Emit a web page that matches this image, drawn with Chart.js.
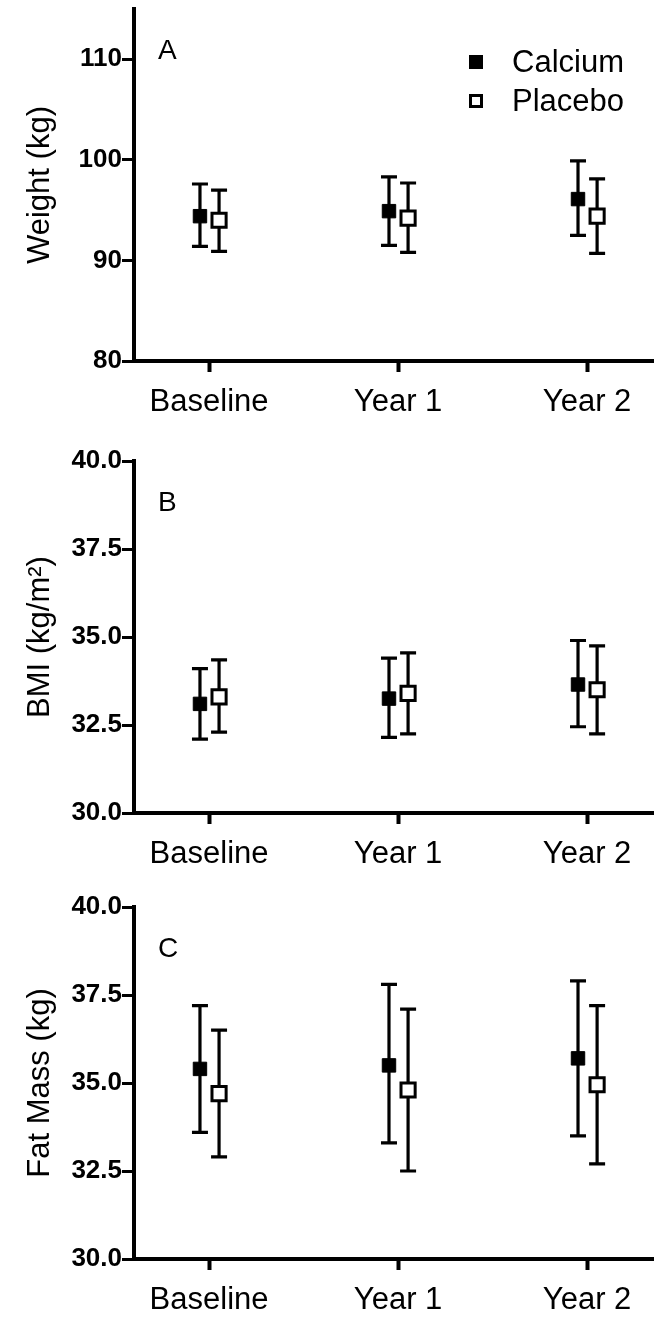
<!DOCTYPE html>
<html>
<head>
<meta charset="utf-8">
<script src="https://cdn.jsdelivr.net/npm/chart.js@4.4.1/dist/chart.umd.min.js"></script>
<style>
  body { margin: 0; background: #fff; }
  .panel { position: absolute; left: 0; width: 654px; }
</style>
</head>
<body>
<div class="panel" style="top:0;height:440px"><canvas id="weight"></canvas></div>
<div class="panel" style="top:440px;height:440px"><canvas id="bmi"></canvas></div>
<div class="panel" style="top:880px;height:438px"><canvas id="fat"></canvas></div>
<script>
const categories = ["Baseline", "Year 1", "Year 2"];

// Panel A - weight (kg), mean with error bar ends
const weightCalcium = [94.4, 94.9, 96.1];
const weightCalciumLow = [91.4, 91.5, 92.5];
const weightCalciumHigh = [97.6, 98.3, 99.9];
const weightPlacebo = [94.0, 94.2, 94.4];
const weightPlaceboLow = [90.9, 90.8, 90.7];
const weightPlaceboHigh = [97.0, 97.7, 98.1];

// Panel B - BMI (kg/m2)
const bmiCalcium = [33.1, 33.25, 33.65];
const bmiCalciumLow = [32.1, 32.15, 32.45];
const bmiCalciumHigh = [34.1, 34.4, 34.9];
const bmiPlacebo = [33.3, 33.4, 33.5];
const bmiPlaceboLow = [32.3, 32.25, 32.25];
const bmiPlaceboHigh = [34.35, 34.55, 34.75];

// Panel C - fat mass (kg)
const fatCalcium = [35.4, 35.5, 35.7];
const fatCalciumLow = [33.6, 33.3, 33.5];
const fatCalciumHigh = [37.2, 37.8, 37.9];
const fatPlacebo = [34.7, 34.8, 34.95];
const fatPlaceboLow = [32.9, 32.5, 32.7];
const fatPlaceboHigh = [36.5, 37.1, 37.2];

const weightTicks = [80, 90, 100, 110];
const percentTicks = [30, 32.5, 35, 37.5, 40];

const FONT = '"Liberation Sans", Arial, sans-serif';
Chart.defaults.font.family = FONT;
Chart.defaults.color = "#000";

// dodge the two groups a little around each category
const dodge = { calcium: -0.048, placebo: 0.053 };
const toPoints = (vals, shift) => vals.map((v, i) => ({ x: i + shift, y: v }));

const errorBars = {
  id: "errorBars",
  beforeDatasetsDraw(chart) {
    const ctx = chart.ctx;
    const yScale = chart.scales.y;
    chart.data.datasets.forEach((ds, i) => {
      const meta = chart.getDatasetMeta(i);
      ctx.save();
      ctx.strokeStyle = "#000";
      ctx.lineWidth = 3.2;
      meta.data.forEach((pt, j) => {
        const top = yScale.getPixelForValue(ds.errHigh[j]);
        const bottom = yScale.getPixelForValue(ds.errLow[j]);
        ctx.beginPath();
        ctx.moveTo(pt.x, top);
        ctx.lineTo(pt.x, bottom);
        ctx.moveTo(pt.x - 8, top);
        ctx.lineTo(pt.x + 8, top);
        ctx.moveTo(pt.x - 8, bottom);
        ctx.lineTo(pt.x + 8, bottom);
        ctx.stroke();
      });
      ctx.restore();
    });
  },
};

const panelDecor = {
  id: "panelDecor",
  afterDraw(chart, args, opts) {
    const { ctx, chartArea } = chart;
    ctx.save();
    ctx.fillStyle = "#000";
    ctx.textBaseline = "middle";
    ctx.font = "28px " + FONT;
    ctx.fillText(opts.letter, chartArea.left + 24, chartArea.top + 42);
    if (opts.legend) {
      ctx.font = "31px " + FONT;
      chart.data.datasets.forEach((ds, i) => {
        const cy = chartArea.top + 53 + i * 39;
        const bx = chartArea.right - 185;
        if (ds.backgroundColor === "#000") {
          ctx.fillRect(bx, cy - 7, 14, 14);
        } else {
          ctx.strokeStyle = "#000";
          ctx.lineWidth = 3;
          ctx.strokeRect(bx + 1.5, cy - 5.5, 11, 11);
        }
        ctx.fillText(ds.label, chartArea.right - 142, cy + 1);
      });
    }
    ctx.restore();
  },
};

function makePanel(id, cfg) {
  const canvas = document.getElementById(id);
  const boxH = canvas.parentNode.clientHeight;
  new Chart(canvas, {
    type: "scatter",
    data: {
      datasets: [
        {
          label: "Calcium",
          data: toPoints(cfg.calcium, dodge.calcium),
          errLow: cfg.calciumLow,
          errHigh: cfg.calciumHigh,
          pointStyle: "rect",
          pointRadius: 9.5,
          backgroundColor: "#000",
          borderColor: "#000",
          borderWidth: 1,
        },
        {
          label: "Placebo",
          data: toPoints(cfg.placebo, dodge.placebo),
          errLow: cfg.placeboLow,
          errHigh: cfg.placeboHigh,
          pointStyle: "rect",
          pointRadius: 10,
          backgroundColor: "#fff",
          borderColor: "#000",
          borderWidth: 3,
        },
      ],
    },
    options: {
      responsive: true,
      maintainAspectRatio: false,
      animation: false,
      events: [],
      layout: {
        autoPadding: false,
        padding: { top: cfg.top, left: 0, right: 0, bottom: 0 },
      },
      plugins: {
        legend: { display: false },
        tooltip: { enabled: false },
        panelDecor: { letter: cfg.letter, legend: cfg.legend },
      },
      scales: {
        x: {
          type: "linear",
          min: -0.397,
          max: 2.354,
          afterBuildTicks: (s) => {
            s.ticks = categories.map((c, i) => ({ value: i }));
          },
          ticks: {
            callback: (v) => categories[v],
            font: { size: 31 },
            color: "#000",
            padding: 12,
            maxRotation: 0,
            autoSkip: false,
          },
          grid: {
            drawOnChartArea: false,
            tickLength: 11,
            tickWidth: 4,
            tickColor: "#000",
          },
          border: { color: "#000", width: 4 },
          afterFit: (s) => {
            s.height = boxH - cfg.bottom;
            s.paddingLeft = 0;
            s.paddingRight = 0;
          },
        },
        y: {
          min: cfg.ticks[0],
          max: cfg.max,
          afterBuildTicks: (s) => {
            s.ticks = cfg.ticks.map((v) => ({ value: v }));
          },
          ticks: {
            callback: cfg.format,
            font: { size: 26, weight: "bold" },
            color: "#000",
            padding: 0,
          },
          grid: {
            drawOnChartArea: false,
            tickLength: 12,
            tickWidth: 3,
            tickColor: "#000",
          },
          border: { color: "#000", width: 4 },
          title: {
            display: true,
            text: cfg.title,
            font: { size: 31, lineHeight: 1 },
            color: "#000",
            padding: { top: 25, bottom: 0 },
          },
          afterFit: (s) => {
            s.width = 134;
            s.paddingTop = 0;
            s.paddingBottom = 0;
          },
        },
      },
    },
    plugins: [errorBars, panelDecor],
  });
}

makePanel("weight", {
  letter: "A",
  legend: true,
  title: "Weight (kg)",
  ticks: weightTicks,
  max: 115,
  format: (v) => v.toString(),
  top: 9,
  bottom: 361,
  calcium: weightCalcium,
  calciumLow: weightCalciumLow,
  calciumHigh: weightCalciumHigh,
  placebo: weightPlacebo,
  placeboLow: weightPlaceboLow,
  placeboHigh: weightPlaceboHigh,
});

makePanel("bmi", {
  letter: "B",
  legend: false,
  title: "BMI (kg/m\u00B2)",
  ticks: percentTicks,
  max: 40,
  format: (v) => v.toFixed(1),
  top: 21,
  bottom: 373,
  calcium: bmiCalcium,
  calciumLow: bmiCalciumLow,
  calciumHigh: bmiCalciumHigh,
  placebo: bmiPlacebo,
  placeboLow: bmiPlaceboLow,
  placeboHigh: bmiPlaceboHigh,
});

makePanel("fat", {
  letter: "C",
  legend: false,
  title: "Fat Mass (kg)",
  ticks: percentTicks,
  max: 40,
  format: (v) => v.toFixed(1),
  top: 27,
  bottom: 379,
  calcium: fatCalcium,
  calciumLow: fatCalciumLow,
  calciumHigh: fatCalciumHigh,
  placebo: fatPlacebo,
  placeboLow: fatPlaceboLow,
  placeboHigh: fatPlaceboHigh,
});
</script>
</body>
</html>
